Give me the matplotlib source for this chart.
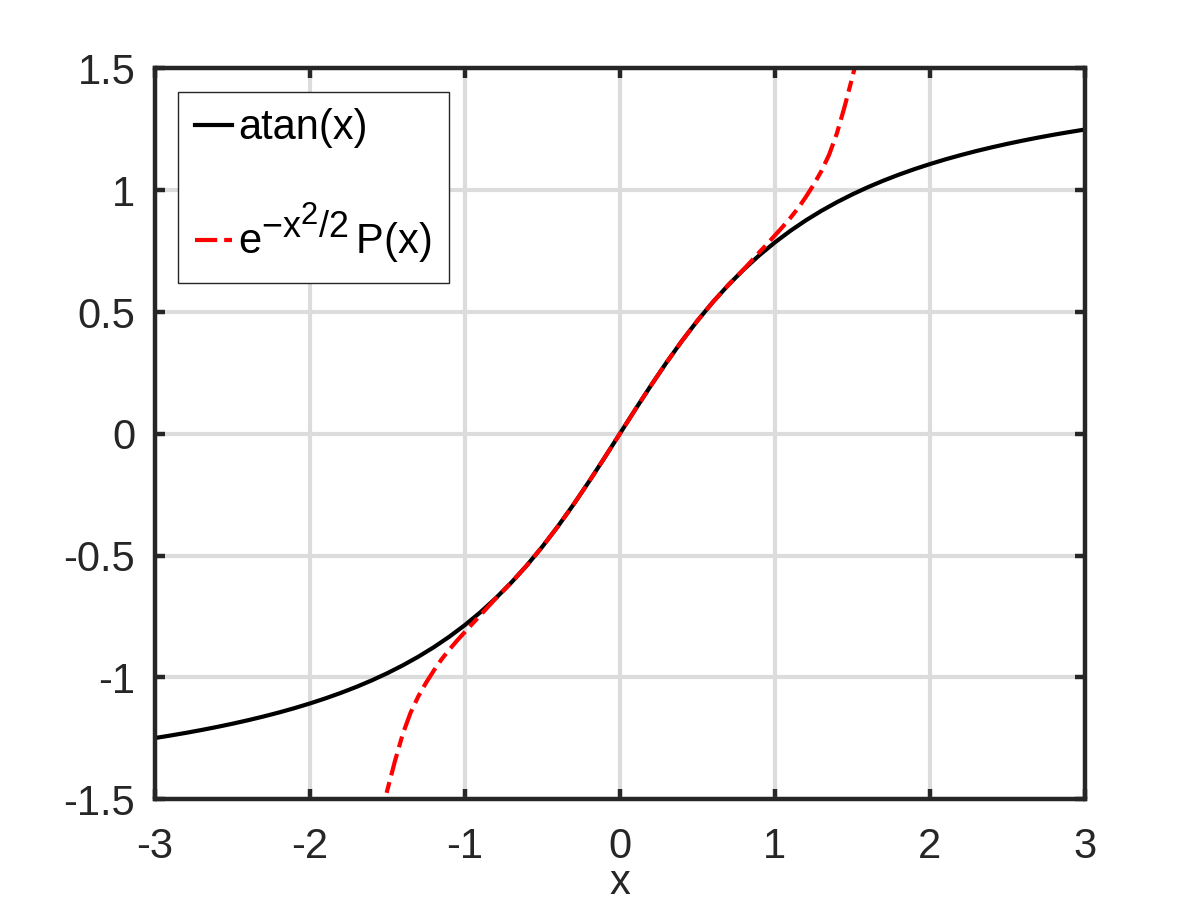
import matplotlib
matplotlib.use("Agg")
import matplotlib.pyplot as plt
import matplotlib._mathtext as mathtext_internal

plt.rcParams['font.family'] = ['Liberation Sans', 'DejaVu Sans']
plt.rcParams['mathtext.fontset'] = 'custom'
plt.rcParams['mathtext.rm'] = 'Liberation Sans'
plt.rcParams['mathtext.it'] = 'Liberation Sans'
plt.rcParams['lines.scale_dashes'] = False
# Octave-style superscripts are barely shrunk
mathtext_internal.SHRINK_FACTOR = 0.86

# atan(x) curve
atan_x = [-3.0, -2.9, -2.8, -2.7, -2.6, -2.5, -2.4, -2.3, -2.2, -2.1,
          -2.0, -1.9, -1.8, -1.7, -1.6, -1.5, -1.4, -1.3, -1.2, -1.1,
          -1.0, -0.9, -0.8, -0.7, -0.6, -0.5, -0.4, -0.3, -0.2, -0.1,
          0.0, 0.1, 0.2, 0.3, 0.4, 0.5, 0.6, 0.7, 0.8, 0.9,
          1.0, 1.1, 1.2, 1.3, 1.4, 1.5, 1.6, 1.7, 1.8, 1.9,
          2.0, 2.1, 2.2, 2.3, 2.4, 2.5, 2.6, 2.7, 2.8, 2.9, 3.0]
atan_y = [-1.2490, -1.2387, -1.2278, -1.2161, -1.2036, -1.1903, -1.1760, -1.1607, -1.1442, -1.1264,
          -1.1071, -1.0863, -1.0637, -1.0391, -1.0122, -0.9828, -0.9505, -0.9151, -0.8761, -0.8330,
          -0.7854, -0.7328, -0.6747, -0.6107, -0.5404, -0.4636, -0.3805, -0.2915, -0.1974, -0.0997,
          0.0, 0.0997, 0.1974, 0.2915, 0.3805, 0.4636, 0.5404, 0.6107, 0.6747, 0.7328,
          0.7854, 0.8330, 0.8761, 0.9151, 0.9505, 0.9828, 1.0122, 1.0391, 1.0637, 1.0863,
          1.1071, 1.1264, 1.1442, 1.1607, 1.1760, 1.1903, 1.2036, 1.2161, 1.2278, 1.2387, 1.2490]

# e^{-x^2/2} P(x) approximation
approx_x = [-1.55, -1.5, -1.45, -1.4, -1.35, -1.3, -1.25, -1.2, -1.15, -1.1,
            -1.05, -1.0, -0.95, -0.9, -0.85, -0.8, -0.7, -0.6, -0.5, -0.4,
            -0.3, -0.2, -0.1, 0.0, 0.1, 0.2, 0.3, 0.4, 0.5, 0.6,
            0.7, 0.8, 0.85, 0.9, 0.95, 1.0, 1.05, 1.1, 1.15, 1.2,
            1.25, 1.3, 1.35, 1.4, 1.45, 1.5, 1.55]
approx_y = [-1.59, -1.463, -1.342, -1.232, -1.145, -1.078, -1.022, -0.972, -0.926, -0.886,
            -0.849, -0.814, -0.779, -0.745, -0.710, -0.6755, -0.6108, -0.5404, -0.4636, -0.3805,
            -0.2915, -0.1974, -0.0997, 0.0, 0.0997, 0.1974, 0.2915, 0.3805, 0.4636, 0.5404,
            0.6108, 0.6755, 0.710, 0.745, 0.779, 0.814, 0.849, 0.886, 0.926, 0.972,
            1.022, 1.078, 1.145, 1.232, 1.342, 1.463, 1.59]

xticks = [-3, -2, -1, 0, 1, 2, 3]
yticks = [-1.5, -1, -0.5, 0, 0.5, 1, 1.5]
ytick_labels = ['-1.5', '-1', '-0.5', '0', '0.5', '1', '1.5']

dark = '#262626'

fig = plt.figure(figsize=(12, 9), dpi=100)
ax = fig.add_axes([0.129, 0.112, 0.775, 0.812])

ax.plot(atan_x, atan_y, color='black', lw=3, label='atan(x)')
ax.plot(approx_x, approx_y, color='red', lw=3, dashes=(16, 5, 8, 5),
        label=r'$\mathregular{e^{-x^{2}/2}\,P(x)}$')

ax.set_xlim(-3, 3)
ax.set_ylim(-1.5, 1.5)
ax.set_xticks(xticks)
ax.set_xticklabels([str(t) for t in xticks])
ax.set_yticks(yticks)
ax.set_yticklabels(ytick_labels)

ax.grid(True, color='#dcdcdc', lw=3)
ax.set_axisbelow(True)
for s in ax.spines.values():
    s.set_color(dark)
    s.set_linewidth(3.2)
ax.tick_params(direction='in', length=7, width=3.2, color=dark, labelcolor=dark,
               labelsize=30, top=True, right=True, pad=20)
ax.tick_params(axis='y', pad=14)

ax.set_xlabel('x', fontsize=30, color=dark, labelpad=-3)

leg = ax.legend(loc='upper left', bbox_to_anchor=(0.025, 0.968), borderaxespad=0,
                fontsize=30, fancybox=False, framealpha=1, edgecolor=dark,
                handlelength=0.9, handletextpad=0.15,
                borderpad=0.4, labelspacing=1.25)
leg.get_frame().set_linewidth(1)

fig.savefig('out.png', dpi=100)
